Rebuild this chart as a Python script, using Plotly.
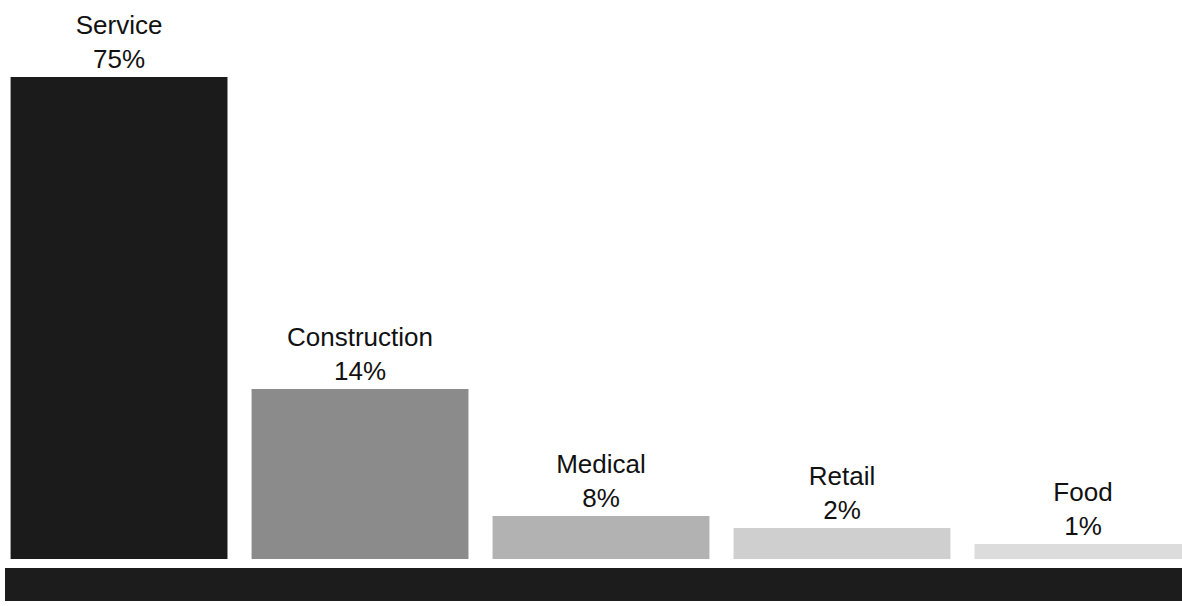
import plotly.graph_objects as go

# Data
categories = ["Service", "Construction", "Medical", "Retail", "Food"]
share_pct = [75, 14, 8, 2, 1]                   # percentages printed on the chart
bar_heights = [75, 26.45, 6.69, 4.82, 2.33]     # drawn bar heights (Service = 75 units)
bar_colors = ["#1b1b1b", "#8b8b8b", "#b2b2b2", "#cfcfcf", "#dcdcdc"]

W, H = 1182, 606
margin_b = 47
plot_h = H - margin_b
px_per_unit = 482 / 75.0
y_max = plot_h / px_per_unit

fig = go.Figure()
fig.add_trace(go.Bar(
    x=list(range(len(categories))),
    y=bar_heights,
    marker=dict(color=bar_colors, line=dict(width=0)),
    width=0.9,
    text=[f"{c}<br>{p}%" for c, p in zip(categories, share_pct)],
    textposition="outside",
    constraintext="none",
    cliponaxis=False,
    textfont=dict(family="Liberation Sans, Arial, sans-serif", size=26, color="#111111"),
    hoverinfo="skip",
))

# Heavy black base band under the bars
band_top_px, band_bot_px = 568, 601
fig.add_shape(type="rect", xref="paper", yref="paper",
              x0=5 / W, x1=1.0,
              y0=-(band_bot_px - plot_h) / plot_h, y1=-(band_top_px - plot_h) / plot_h,
              fillcolor="#1c1c1c", line=dict(width=0), layer="above")

fig.update_layout(
    width=W, height=H,
    margin=dict(l=0, r=0, t=0, b=margin_b),
    paper_bgcolor="white", plot_bgcolor="white",
    showlegend=False,
    xaxis=dict(range=[-0.494, 4.411], visible=False, fixedrange=True),
    yaxis=dict(range=[0, y_max], visible=False, fixedrange=True),
)

fig.write_html("out.html")
